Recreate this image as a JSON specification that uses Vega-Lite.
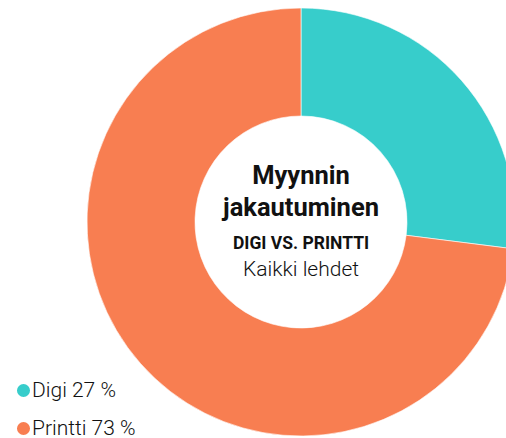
{
  "$schema": "https://vega.github.io/schema/vega-lite/v6.json",
  "width": 410,
  "height": 428,
  "autosize": {"type": "none"},
  "padding": {"left": 96, "top": 8, "right": 0, "bottom": 2},
  "background": "white",
  "config": {"view": {"stroke": null}, "font": "Roboto"},
  "data": {"values": [
    {"kategoria": "Digi 27 %", "osuus": 27},
    {"kategoria": "Printti 73 %", "osuus": 73}
  ]},
  "layer": [
    {
      "mark": {"type": "arc", "outerRadius": 214, "innerRadius": 106, "stroke": "white", "strokeWidth": 0.6},
      "encoding": {
        "theta": {"field": "osuus", "type": "quantitative", "stack": true},
        "color": {
          "field": "kategoria",
          "type": "nominal",
          "scale": {"domain": ["Digi 27 %", "Printti 73 %"], "range": ["#37cdcb", "#f87e51"]},
          "legend": {
            "title": null,
            "orient": "none",
            "legendX": -83,
            "legendY": 372,
            "symbolType": "circle",
            "symbolSize": 170,
            "symbolStrokeWidth": 0,
            "labelFont": "Roboto",
            "labelFontSize": 21,
            "labelFontWeight": 300,
            "labelColor": "#111111",
            "labelOffset": -2,
            "rowPadding": 16
          }
        },
        "order": {"field": "osuus", "sort": "ascending"}
      }
    },
    {
      "data": {"values": [{"t": "Myynnin"}]},
      "mark": {"type": "text", "font": "Roboto", "fontSize": 25.5, "fontWeight": "bold", "align": "center", "baseline": "alphabetic", "dy": -38, "color": "#111111"},
      "encoding": {"text": {"field": "t"}}
    },
    {
      "data": {"values": [{"t": "jakautuminen"}]},
      "mark": {"type": "text", "font": "Roboto", "fontSize": 25.5, "fontWeight": "bold", "align": "center", "baseline": "alphabetic", "dy": -6, "color": "#111111"},
      "encoding": {"text": {"field": "t"}}
    },
    {
      "data": {"values": [{"t": "DIGI VS. PRINTTI"}]},
      "mark": {"type": "text", "font": "Roboto", "fontSize": 17.5, "fontWeight": "bold", "align": "center", "baseline": "alphabetic", "dy": 27, "color": "#111111"},
      "encoding": {"text": {"field": "t"}}
    },
    {
      "data": {"values": [{"t": "Kaikki lehdet"}]},
      "mark": {"type": "text", "font": "Roboto", "fontSize": 21, "fontWeight": 300, "align": "center", "baseline": "alphabetic", "dy": 54, "color": "#111111"},
      "encoding": {"text": {"field": "t"}}
    }
  ]
}
